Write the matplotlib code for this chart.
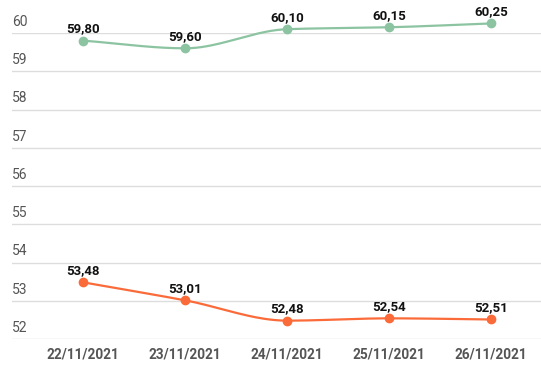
import numpy as np
import matplotlib
matplotlib.use("Agg")
import matplotlib.pyplot as plt

dates = ["22/11/2021", "23/11/2021", "24/11/2021", "25/11/2021", "26/11/2021"]
upper = [59.80, 59.60, 60.10, 60.15, 60.25]
lower = [53.48, 53.01, 52.48, 52.54, 52.51]
yticks = [52, 53, 54, 55, 56, 57, 58, 59, 60]

green = "#8cc4a2"
orange = "#fb6b3a"

plt.rcParams['font.family'] = ['Roboto', 'DejaVu Sans']


def monotone(x, y, n=40):
    # monotone cubic hermite, only used to draw the smooth line
    x = np.asarray(x, float)
    y = np.asarray(y, float)
    h = np.diff(x)
    d = np.diff(y) / h
    m = np.zeros_like(y)
    m[0], m[-1] = d[0], d[-1]
    for i in range(1, len(y) - 1):
        if d[i - 1] * d[i] > 0:
            m[i] = 2 / (1 / d[i - 1] + 1 / d[i])
    xs, ys = [], []
    for i in range(len(h)):
        t = np.linspace(0, 1, n)
        h00 = 2 * t**3 - 3 * t**2 + 1
        h10 = t**3 - 2 * t**2 + t
        h01 = -2 * t**3 + 3 * t**2
        h11 = t**3 - t**2
        xs.append(x[i] + t * h[i])
        ys.append(h00 * y[i] + h10 * h[i] * m[i] + h01 * y[i + 1] + h11 * h[i] * m[i + 1])
    return np.concatenate(xs), np.concatenate(ys)


fig = plt.figure(figsize=(5.41, 3.68), dpi=100)
ax = fig.add_axes([12 / 541, 29 / 368, 529 / 541, 306 / 368])
ax.set_xlim(-0.7, 4.49)
ax.set_ylim(52, 60)

for v in yticks:
    ax.axhline(v, color="#dddddd", lw=1, zorder=0)
    ax.annotate(str(v), (0, v), xycoords=("axes fraction", "data"),
                xytext=(0, 3), textcoords="offset points",
                ha="left", va="bottom", fontsize=10, color="#555555")

x = np.arange(len(dates))
for vals, col in [(upper, green), (lower, orange)]:
    sx, sy = monotone(x, vals)
    ax.plot(sx, sy, color=col, lw=1.6, clip_on=False, zorder=2)
    ax.plot(x, vals, "o", color=col, ms=6, clip_on=False, zorder=3)
    for xi, v in zip(x, vals):
        ax.annotate(f"{v:.2f}".replace(".", ","), (xi, v),
                    xytext=(0, 4), textcoords="offset points",
                    ha="center", va="bottom", fontsize=9.5, fontweight="bold",
                    color="#111111", zorder=4, annotation_clip=False)

ax.set_xticks(x)
ax.set_xticklabels(dates, fontsize=9.8, fontweight="bold", color="#555555")
ax.tick_params(axis="x", length=0, pad=6)
ax.set_yticks([])
for s in ax.spines.values():
    s.set_visible(False)

fig.savefig("out.png", dpi=100)
